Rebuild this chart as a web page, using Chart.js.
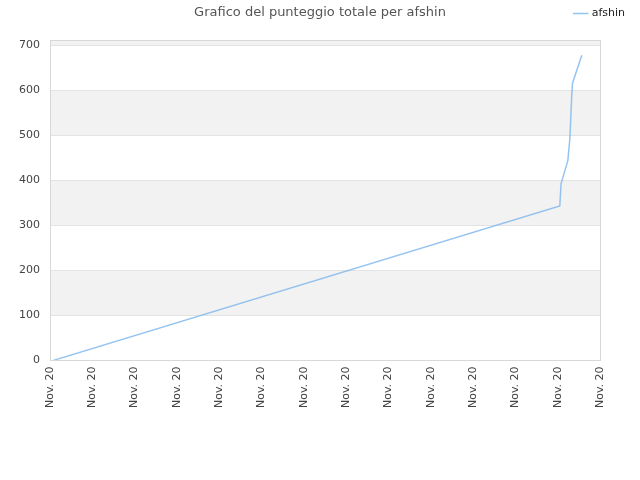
<!DOCTYPE html>
<html>
<head>
<meta charset="utf-8">
<script src="https://cdn.jsdelivr.net/npm/chart.js@4/dist/chart.umd.min.js"></script>
<style>
html,body{margin:0;padding:0;background:#fff;}
#wrap{position:relative;width:640px;height:480px;}
#title{position:absolute;left:0;width:640px;top:4px;text-align:center;font:13px "DejaVu Sans",sans-serif;color:#555;}
</style>
</head>
<body>
<div id="wrap">
<canvas id="c" width="640" height="480"></canvas>
<div id="title">Grafico del punteggio totale per afshin</div>
</div>
<script>
// Data (x positions in tick units along the date axis, y = total score)
const seriesName = "afshin";
const xValues = [0.08, 12.05, 12.08, 12.24, 12.29, 12.33, 12.35, 12.57];
const yValues = [0, 343, 393, 444, 496, 585, 616, 678];
const tickLabel = "Nov. 20";
const xTickCount = 13;
const yMax = 712;

const points = xValues.map((x, i) => ({x: x, y: yValues[i]}));

const bandPlugin = {
  id: 'bands',
  beforeInit(chart) {
    const lg = chart.legend;
    if (lg) {
      const orig = lg.fit.bind(lg);
      lg.fit = function () { orig(); this.height += 11; };
    }
  },
  beforeDraw(chart) {
    const ctx = chart.ctx, a = chart.chartArea, ys = chart.scales.y;
    ctx.save();
    ctx.fillStyle = '#fff';
    ctx.fillRect(a.left, a.top, a.right - a.left, a.bottom - a.top);
    ctx.fillStyle = '#f2f2f2';
    for (let v = 100; v < yMax; v += 200) {
      const top = ys.getPixelForValue(Math.min(v + 100, yMax));
      const bot = ys.getPixelForValue(v);
      ctx.fillRect(a.left, top, a.right - a.left, bot - top);
    }
    ctx.restore();
  },
  afterDatasetsDraw(chart) {
    const ctx = chart.ctx, a = chart.chartArea;
    ctx.save();
    ctx.strokeStyle = '#d8d8d8';
    ctx.lineWidth = 1;
    ctx.strokeRect(Math.round(a.left) + 0.5, Math.round(a.top) + 0.5, Math.round(a.right - a.left), Math.round(a.bottom - a.top));
    ctx.restore();
  }
};

new Chart(document.getElementById('c'), {
  type: 'line',
  data: {
    datasets: [{
      label: seriesName,
      data: points,
      borderColor: 'rgba(124,181,236,0.8)',
      backgroundColor: 'rgba(124,181,236,0.8)',
      borderWidth: 1.5,
      pointRadius: 0,
      tension: 0,
      fill: false
    }]
  },
  options: {
    responsive: false,
    animation: false,
    layout: {padding: {left: 9, right: 7, top: 0, bottom: 66}},
    plugins: {
      title: {display: false},
      tooltip: {enabled: false},
      legend: {
        position: 'top',
        align: 'end',
        labels: {
          usePointStyle: true,
          pointStyle: 'line',
          boxWidth: 12,
          font: {family: 'DejaVu Sans', size: 11},
          color: '#222',
          padding: 8
        }
      }
    },
    scales: {
      x: {
        type: 'linear',
        min: 0,
        max: xTickCount,
        grid: {display: false, drawTicks: false},
        border: {display: false},
        ticks: {
          stepSize: 1,
          autoSkip: false,
          minRotation: 90,
          maxRotation: 90,
          padding: 6,
          font: {family: 'DejaVu Sans', size: 11},
          color: '#444',
          callback: () => tickLabel
        }
      },
      y: {
        min: 0,
        max: yMax,
        grid: {color: '#e3e3e3', drawTicks: false},
        border: {display: false},
        ticks: {
          stepSize: 100,
          includeBounds: false,
          padding: 10,
          font: {family: 'DejaVu Sans', size: 11},
          color: '#444'
        }
      },
      ySpace: {
        position: 'right',
        display: true,
        grid: {display: false, drawTicks: false},
        border: {display: false},
        ticks: {display: false},
        afterFit(s) { s.width = 33; }
      }
    }
  },
  plugins: [bandPlugin]
});
</script>
</body>
</html>
